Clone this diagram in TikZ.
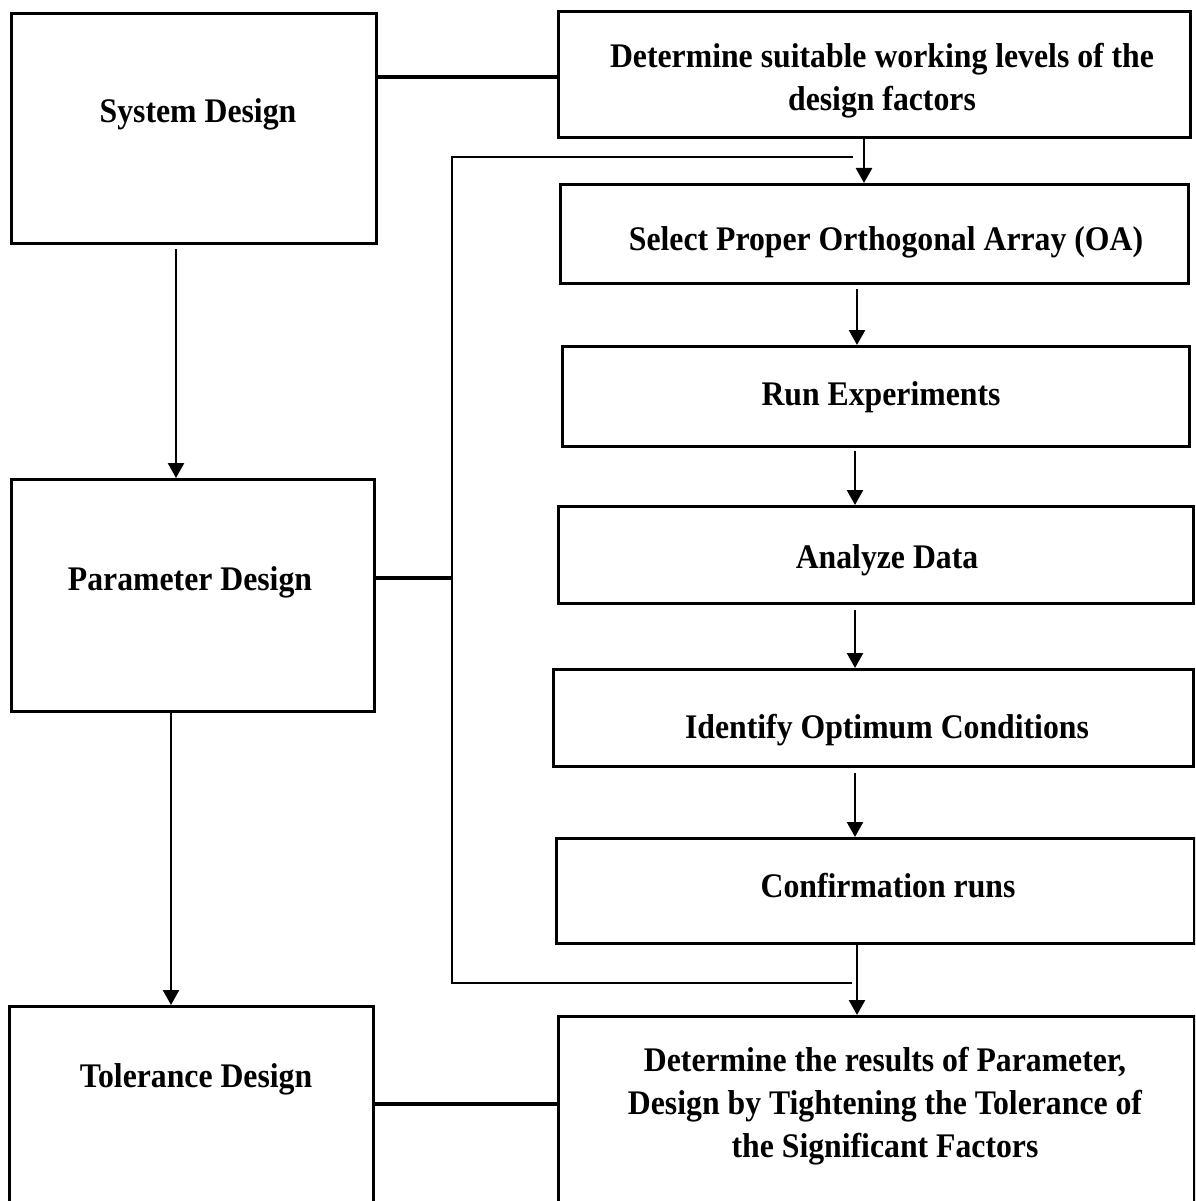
\documentclass[tikz,border=0pt]{standalone}
\usepackage{fontspec}
\setmainfont{Liberation Serif}
\usetikzlibrary{arrows.meta}
\tikzset{
  box/.style={draw, line width=3.4pt, rectangle, inner sep=0pt, anchor=north west},
  lbl/.style={font=\fontsize{34.5}{43}\selectfont\bfseries, align=center, anchor=base, inner sep=0pt, xscale=0.92, transform shape},
  arr/.style={line width=2.5pt, -{Triangle[length=15pt,width=16pt]}},
  thinline/.style={line width=2.5pt},
  link/.style={line width=3.2pt},
}
\begin{document}
\begin{tikzpicture}[x=1pt,y=-1pt]
\useasboundingbox (0,0) rectangle (1195,1201);
\fill[white] (0,0) rectangle (1195,1201);
\clip (0,0) rectangle (1195,1201);
% boxes
\node[box, minimum width=365pt, minimum height=230pt] (sd)  at (10,12) {};
\node[box, minimum width=363pt, minimum height=232pt] (par) at (10,478) {};
\node[box, minimum width=364pt, minimum height=240pt] (tol) at (8,1005) {};
\node[box, minimum width=632pt, minimum height=126pt] (det) at (557,10) {};
\node[box, minimum width=628pt, minimum height=99pt]  (sel) at (559,183) {};
\node[box, minimum width=627pt, minimum height=100pt] (run) at (561,345) {};
\node[box, minimum width=635pt, minimum height=97pt]  (ana) at (557,505) {};
\node[box, minimum width=640pt, minimum height=97pt]  (idf) at (552,668) {};
\node[box, minimum width=638pt, minimum height=105pt] (cnf) at (555,837) {};
\node[box, minimum width=636pt, minimum height=240pt] (res) at (557,1015) {};
% texts
\node[lbl] (tsd)  at (198,123)  {System Design};
\node[lbl] (tpar) at (190,590)  {Parameter Design};
\node[lbl] (ttol) at (196,1087) {Tolerance Design};
\node[lbl] (tdet) at (882,111) {Determine suitable working levels of the\\design factors};
\node[lbl] (tsel) at (886,250)  {Select Proper Orthogonal Array (OA)};
\node[lbl] (trun) at (881,405)  {Run Experiments};
\node[lbl] (tana) at (887,568)  {Analyze Data};
\node[lbl] (tidf) at (887,738)  {Identify Optimum Conditions};
\node[lbl] (tcnf) at (888,897)  {Confirmation runs};
\node[lbl] (tres) at (885,1157) {Determine the results of Parameter,\\Design by Tightening the Tolerance of\\the Significant Factors};
% helper coordinates
\coordinate (xa) at (176,0);
\coordinate (xb) at (171,0);
\coordinate (xc) at (864,0);
\coordinate (xd) at (857,0);
\coordinate (xe) at (855,0);
\coordinate (ya) at (0,77);
\coordinate (yb) at (0,578);
\coordinate (yc) at (0,1104);
\coordinate (brt) at (853,157);
\coordinate (brb) at (852,983);
\coordinate (brx) at (452,0);
% connectors
\draw[link] (sd.east |- ya) -- (det.west |- ya);
\draw[link] (tol.east |- yc) -- (res.west |- yc);
\draw[link] (par.east |- yb) -- (brx |- yb);
\draw[thinline] (brt) -| (brx |- brb) -- (brb);
\draw[arr] ([yshift=-4pt]sd.south -| xa) -- (par.north -| xa);
\draw[arr] (par.south -| xb) -- (tol.north -| xb);
\draw[arr] (det.south -| xc) -- (sel.north -| xc);
\draw[arr] ([yshift=-4pt]sel.south -| xd) -- (run.north -| xd);
\draw[arr] ([yshift=-3pt]run.south -| xe) -- (ana.north -| xe);
\draw[arr] ([yshift=-5pt]ana.south -| xe) -- (idf.north -| xe);
\draw[arr] ([yshift=-5pt]idf.south -| xe) -- (cnf.north -| xe);
\draw[arr] (cnf.south -| xd) -- (res.north -| xd);
\end{tikzpicture}
\end{document}
